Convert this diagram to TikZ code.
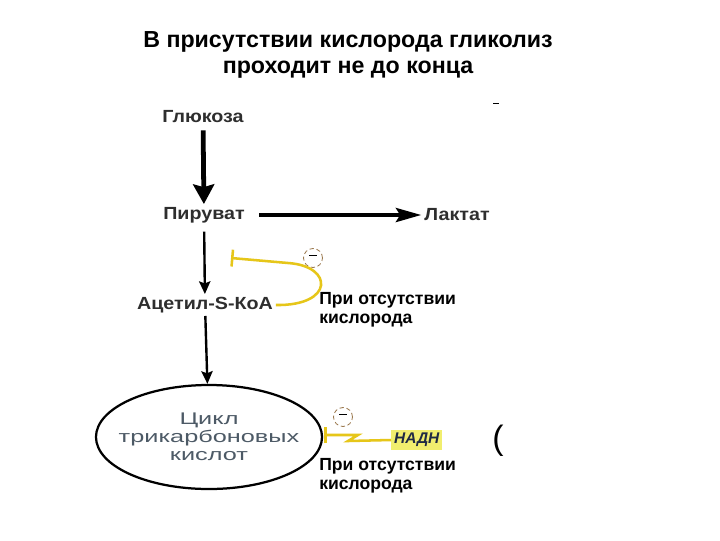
\documentclass[tikz,border=0pt]{standalone}
\usepackage{fontspec}
\setmainfont{Liberation Sans}
\newfontfamily\wideface[FakeStretch=1.5]{Liberation Sans}
\newfontfamily\labelface[FakeStretch=1.12]{Liberation Sans}
\usetikzlibrary{arrows.meta,shapes.geometric}
\definecolor{GlyLabel}{HTML}{2E2E2E}
\definecolor{GlyCycle}{HTML}{4D5A66}
\definecolor{GlyYellow}{HTML}{E6C619}
\definecolor{GlyMark}{HTML}{9C7A50}
\definecolor{GlyHigh}{HTML}{F1EE6E}
\definecolor{GlyNavy}{HTML}{1F2A44}

\begin{document}
\begin{tikzpicture}[x=0.025cm,y=-0.025cm,
  metab/.style={text=GlyLabel,font=\labelface\bfseries\fontsize{12.5}{14}\selectfont,inner sep=2pt},
  note/.style={anchor=west,align=left,font=\bfseries\fontsize{12.5}{13.5}\selectfont,inner sep=0pt},
  minusmark/.style={circle,draw=GlyMark,densely dashed,line width=0.6pt,minimum size=13.5pt,inner sep=0pt,fill=white},
  inhib/.style={draw=GlyYellow,line width=1.8pt,-{Bar[width=12pt,line width=1.8pt]}},
  bigarrow/.style={line width=3.4pt,-{Stealth[length=14pt,width=15pt,inset=2pt]}},
  midarrow/.style={line width=2.6pt,-{Stealth[length=18pt,width=10pt,inset=3pt]}},
  smallarrow/.style={line width=1.7pt,-{Stealth[length=9pt,width=8pt,inset=1.5pt]}}
]
\useasboundingbox[fill=white] (0,0) rectangle (720,540);
\node[font=\bfseries\fontsize{16.5}{19}\selectfont,align=center] (title) at (348,55) {В присутствии кислорода гликолиз\\проходит не до конца};
\node[metab] (gluc) at (203,117) {Глюкоза};
\node[metab] (pyr) at (204,215) {Пируват};
\node[metab] (lact) at (457,215) {Лактат};
\node[metab] (acoa) at (205,305) {Ацетил-S-КоА};
\node[ellipse,draw,line width=1.6pt,minimum width=5.65cm,minimum height=2.6cm,inner xsep=-12pt,inner ysep=0pt,
  text=GlyCycle,align=center,font=\wideface\fontsize{12}{12.8}\selectfont] (cycle) at (209,437)
  {Цикл\\трикарбоновых\\кислот};
\coordinate (blockA) at (231,258);
\coordinate (blockB) at (324,435);
\node[minusmark] (minA) at (313,258) {\rule[0.6ex]{5pt}{0.8pt}};
\node[minusmark] (minB) at (343,417) {\rule[0.6ex]{5pt}{0.8pt}};
\node[fill=GlyHigh,text=GlyNavy,font=\bfseries\itshape\fontsize{11}{12}\selectfont,inner sep=2pt,anchor=west] (nadh) at (391,440) {НАДН};
\node[note] (condA) at (319,310) {При отсутствии\\кислорода};
\node[note] (condB) at (319,476) {При отсутствии\\кислорода};
\node[font=\fontsize{24}{26}\selectfont] (paren) at (498,441) {(};
\draw[line width=0.6pt] (493,103) -- (499,103);
\draw[bigarrow,shorten <=3pt] (gluc) -- (pyr);
\draw[midarrow,shorten <=8pt] (pyr) -- (lact);
\draw[smallarrow,shorten <=4pt] (pyr) -- (acoa);
\draw[smallarrow] (acoa) -- (cycle);
\draw[inhib] (acoa.east) .. controls (334,306) and (334,266) .. (288,263) -- (blockA);
\draw[inhib] (nadh.west) -- (348,441) -- (358,435) -- (blockB);
\end{tikzpicture}
\end{document}
